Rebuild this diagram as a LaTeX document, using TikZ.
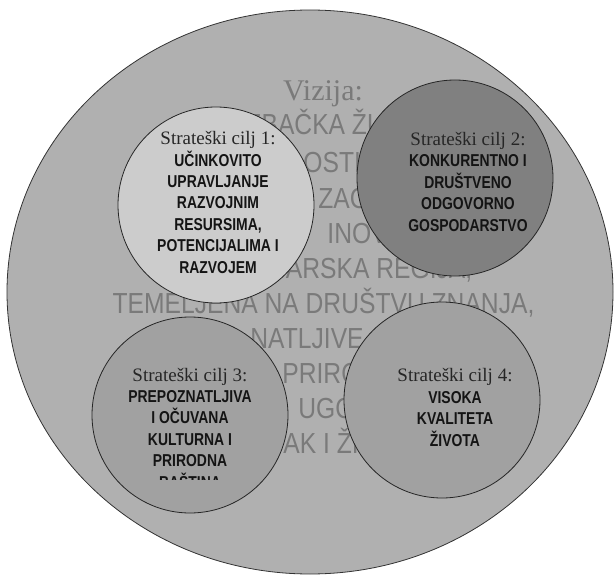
\documentclass[tikz,border=0pt]{standalone}
\usepackage{fontspec}
\setmainfont{Liberation Serif}
\newfontfamily\visionfont[FakeStretch=0.85]{Liberation Sans}
\newfontfamily\goalfont[FakeStretch=0.81]{Liberation Sans}
\usepackage{tikz}

\definecolor{ringgray}{gray}{0.69}
\definecolor{goalone}{gray}{0.80}
\definecolor{goaltwo}{gray}{0.50}
\definecolor{goalrest}{gray}{0.63}

\begin{document}
\begin{tikzpicture}[x=1pt, y=-1pt, line width=.8pt,
    goal/.style={circle, draw=black!85, minimum size=196pt, inner sep=0pt},
    goaltext/.style={align=center, inner sep=0pt, anchor=base, text=black!92,
        font=\goalfont\bfseries\fontsize{17.2}{21.4}\selectfont},
    vision/.style={inner sep=0pt, anchor=base, text=black!52,
        font=\visionfont\fontsize{29}{35}\selectfont}]
    \useasboundingbox (0,0) rectangle (614,578);

    % draw outer vision ellipse
    \filldraw[fill=ringgray, draw=black!80] (310,292) ellipse [x radius=303, y radius=282];

    % vision text behind the goals
    \node[vision, font=\rmfamily\fontsize{30}{36}\selectfont] (vis) at (323,101) {Vizija:};
    \node[vision] (v1) at (323,135) {ZAGREBAČKA ŽUPANIJA};
    \node[vision, anchor=base west] (v2) at (303,172) {OSTI};
    \node[vision, anchor=base west] (v3) at (318,208) {ZAG};
    \node[vision, anchor=base west] (v4) at (327,243) {INOV};
    \node[vision] (v5) at (325,278) {GOSPODARSKA REGIJA,};
    \node[vision] (v6) at (323.5,313) {TEMELJENA NA DRUŠTVU ZNANJA,};
    \node[vision, anchor=base west] (v7) at (250,348) {NATLJIVE};
    \node[vision, anchor=base west] (v8) at (282,383) {PRIRO};
    \node[vision, anchor=base west] (v9) at (298,418) {UGO};
    \node[vision, anchor=base west] (v10) at (283,453) {AK I ŽI};

    % draw goal circles
    \node[goal, fill=goalone] (c1) at (216,205) {};
    \node[goal, fill=goaltwo] (c2) at (455,178) {};
    \node[goal, fill=goalrest] (c3) at (190,415) {};
    \node[goal, fill=goalrest] (c4) at (442,400) {};

    % goal texts (anchored at the baseline of the last line)
    \node[goaltext] (t1) at (218,273) {{\rmfamily\mdseries\fontsize{19}{21.7}\selectfont\color{black!85}Strateški cilj 1:}\\
        UČINKOVITO\\ UPRAVLJANJE\\ RAZVOJNIM\\ RESURSIMA,\\ POTENCIJALIMA I\\ RAZVOJEM};
    \node[goaltext] (t2) at (468,231) {{\rmfamily\mdseries\fontsize{19}{21.7}\selectfont\color{black!85}Strateški cilj 2:}\\
        KONKURENTNO I\\ DRUŠTVENO\\ ODGOVORNO\\ GOSPODARSTVO};
    \begin{scope}
        \clip (80,350) rectangle (300,479);
        \node[goaltext] (t3) at (190,488) {{\rmfamily\mdseries\fontsize{19}{21.7}\selectfont\color{black!85}Strateški cilj 3:}\\
            PREPOZNATLJIVA\\ I OČUVANA\\ KULTURNA I\\ PRIRODNA\\ BAŠTINA};
    \end{scope}
    \node[goaltext] (t4) at (455,446) {{\rmfamily\mdseries\fontsize{19}{21.7}\selectfont\color{black!85}Strateški cilj 4:}\\
        VISOKA\\ KVALITETA\\ ŽIVOTA};
\end{tikzpicture}
\end{document}
